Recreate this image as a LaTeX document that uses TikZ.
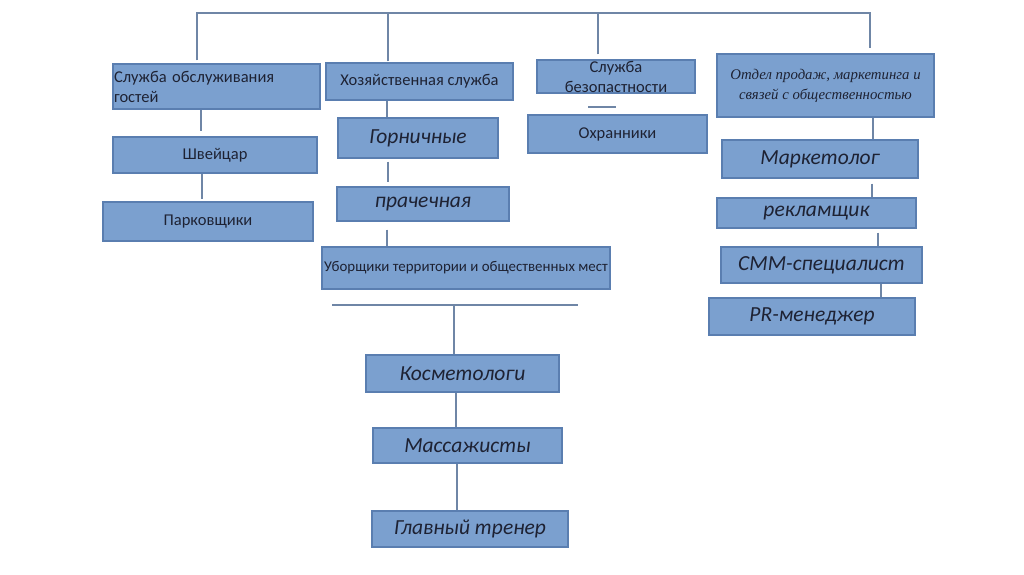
\documentclass[tikz,border=0pt]{standalone}
\usepackage{fontspec}
\setmainfont{Carlito}
\newfontfamily\serifit{Liberation Serif}
\usetikzlibrary{calc}
\definecolor{boxfill}{HTML}{7BA0CF}
\definecolor{boxline}{HTML}{5A7EB0}
\definecolor{linkc}{HTML}{6F86A6}
\definecolor{txt}{HTML}{1E2233}
\tikzset{
  box/.style={rectangle, fill=boxfill, draw=boxline, line width=1.2pt, inner sep=0pt, text=txt, align=center},
  link/.style={draw=linkc, line width=1.4pt},
  big/.style={font=\itshape\fontsize{21.5}{24}\selectfont},
  small/.style={font=\fontsize{16.5}{20}\selectfont}
}
\newcommand\bx[6]{\node[box, minimum width={(#4-#2)*1pt}, minimum height={(#5-#3)*1pt}, #6] (#1) at ({(#2+#4)/2},{(#3+#5)/2})}
\begin{document}
\begin{tikzpicture}[x=1pt,y=-1pt]
\useasboundingbox[fill=white] (0,0) rectangle (1024,574);
% level 1
\bx{a}{113}{64}{320}{109}{small, text width=205pt, align=left}{Служба обслуживания\\гостей};
\bx{b}{326}{63}{513}{100}{small}{Хозяйственная служба};
\bx{c}{537}{60}{695}{93}{small}{Служба\\безопастности};
\bx{d}{717}{54}{934}{117}{font=\serifit\itshape\fontsize{14.8}{20}\selectfont}{Отдел продаж, маркетинга и\\связей с общественностью};
% column a
\bx{a1}{113}{137}{317}{173}{small}{Швейцар};
\bx{a2}{103}{202}{313}{241}{small}{Парковщики};
% column b
\bx{b1}{338}{118}{498}{158}{big}{Горничные};
\bx{b2}{337}{187}{509}{221}{big}{прачечная};
\bx{b3}{322}{247}{610}{289}{font=\fontsize{14.9}{18}\selectfont}{Уборщики территории и общественных мест};
% column c
\bx{c1}{528}{115}{707}{153}{small}{Охранники};
% column d
\bx{d1}{722}{140}{918}{178}{big}{Маркетолог};
\bx{d2}{717}{198}{916}{228}{big}{рекламщик};
\bx{d3}{721}{247}{922}{283}{big}{СММ-специалист};
\bx{d4}{709}{298}{915}{335}{big}{PR-менеджер};
% lower group
\bx{e1}{366}{355}{559}{392}{big}{Косметологи};
\bx{e2}{373}{428}{562}{463}{big}{Массажисты};
\bx{e3}{372}{511}{568}{547}{big}{Главный тренер};
% top bus
\coordinate (tl) at (197,13);
\coordinate (tr) at (870,13);
\draw[link] (a.north -| tl) ++(0,-3) coordinate (ta) -- (tl) -- (tr) -- ($(d.north -| tr)+(0,-5)$);
\draw[link] (b.north -| 388,0) ++(0,-1) -- (388,13);
\draw[link] (c.north -| 598,0) ++(0,-5) -- (598,13);
% column a links
\draw[link] (a.south -| 201,0) -- ($(a1.north -| 201,0)+(0,-5)$);
\draw[link] (a1.south -| 202,0) -- ($(a2.north -| 202,0)+(0,-2)$);
% column b links
\draw[link] (b.south -| 387,0) -- (b1.north -| 387,0);
\draw[link] ($(b1.south -| 388,0)+(0,3)$) -- ($(b2.north -| 388,0)+(0,-4)$);
\draw[link] ($(b2.south -| 387,0)+(0,8)$) -- (b3.north -| 387,0);
% column c dash
\coordinate (cd1) at (588,107);
\coordinate (cd2) at (616,107);
\draw[link] (cd1) -- (cd2);
% column d links
\draw[link] (d.south -| 873,0) -- (d1.north -| 873,0);
\draw[link] ($(d1.south -| 872,0)+(0,5)$) -- (d2.north -| 872,0);
\draw[link] ($(d2.south -| 878,0)+(0,4)$) -- (d3.north -| 878,0);
\draw[link] (d3.south -| 881,0) -- (d4.north -| 881,0);
% lower group links
\coordinate (hl) at (332,305);
\coordinate (hr) at (578,305);
\draw[link] (hl) -- (hr);
\draw[link] (454,305) -- (e1.north -| 454,0);
\draw[link] (e1.south -| 456,0) -- (e2.north -| 456,0);
\draw[link] (e2.south -| 457,0) -- (e3.north -| 457,0);
\end{tikzpicture}
\end{document}
